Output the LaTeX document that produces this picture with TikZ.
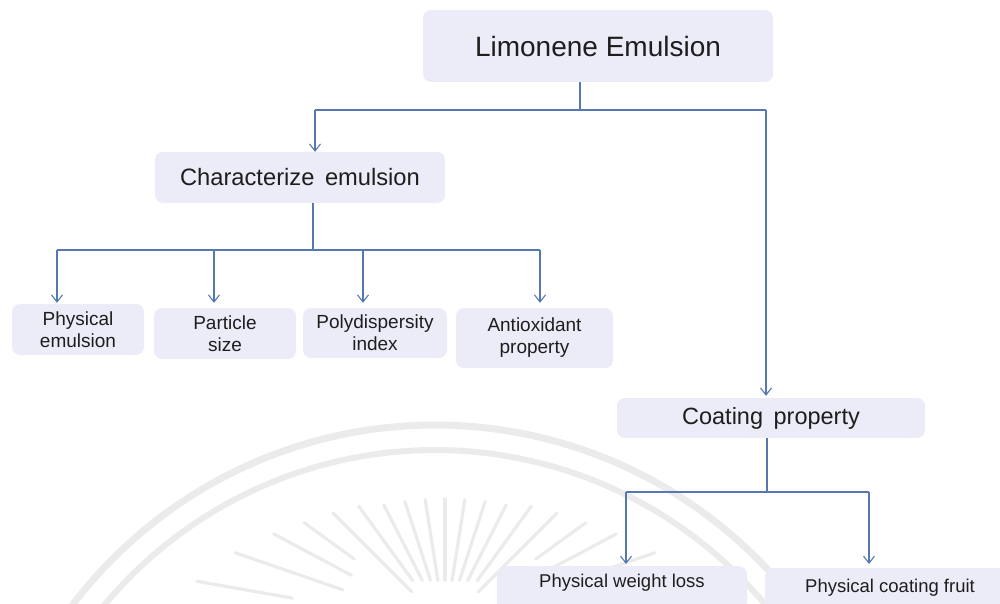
\documentclass[tikz,border=0pt]{standalone}
\usepackage{fontspec}
\setmainfont{Liberation Sans}
\usetikzlibrary{arrows.meta}
\definecolor{boxfill}{RGB}{236,236,248}
\definecolor{linec}{RGB}{86,120,176}
\definecolor{txt}{RGB}{30,30,30}
\definecolor{wm}{RGB}{235,235,235}
\begin{document}
\begin{tikzpicture}[x=1pt,y=-1pt,
  box/.style={fill=boxfill, rounded corners=8pt, inner sep=0pt, text=txt, align=center},
  smallbox/.style={box, font=\fontsize{19}{22}\selectfont},
  conn/.style={draw=linec, line width=1.3pt},
  arr/.style={conn, -{Straight Barb[length=7pt,width=11pt,line width=1.1pt]}},
  ray/.style={draw=wm, line width=3.2pt, line cap=round}]
\useasboundingbox (0,0) rectangle (1000,604);
% watermark seal
\begin{scope}
\clip (0,0) rectangle (1000,604);
\draw[wm, line width=7pt] plot[domain=205:335, samples=120] ({435+455*cos(\x)},{880+455*sin(\x)});
\draw[wm, line width=6pt] plot[domain=205:335, samples=120] ({435+430*cos(\x)},{880+430*sin(\x)});
\foreach \a/\ro/\ri in {-170/252/155,-161/222/108,-152/194/106,-144/174/112,-135/158/47,-126/147/55,-117/135/50,-108/130/47,-99/127/45,-90/126/45,-81/127/45,-72/130/47,-63/135/50,-54/147/55,-45/158/47,-36/174/112,-28/194/106,-19/222/108,-10/252/155}
  \draw[ray, shift={(445,625)}] (\a:\ri) -- (\a:\ro);
\end{scope}
% boxes
\node[box, minimum width=350pt, minimum height=72pt, font=\fontsize{28}{30}\selectfont] (lim) at (598,46) {Limonene Emulsion};
\node[box, minimum width=290pt, minimum height=51pt, font=\fontsize{23.7}{26}\selectfont] (char) at (300,177.5) {Characterize\hspace{4pt} emulsion};
\node[smallbox, minimum width=132pt, minimum height=51pt] (pe) at (78,329.5) {Physical\\emulsion};
\node[smallbox, minimum width=142pt, minimum height=51pt] (ps) at (225,333.5) {Particle\\size};
\node[smallbox, minimum width=144pt, minimum height=50pt] (pdi) at (375,333) {Polydispersity\\index};
\node[smallbox, minimum width=157pt, minimum height=60pt] (ao) at (534.5,338) {Antioxidant\\property};
\node[box, minimum width=308pt, minimum height=40pt, font=\fontsize{23.5}{26}\selectfont] (coat) at (771,418) {Coating\hspace{4pt} property};
\node[box, anchor=north, minimum width=250pt, minimum height=60pt, font=\fontsize{18.5}{22}\selectfont, text height=14pt, text depth=32pt] (wl) at (622,566) {Physical weight loss};
\node[box, anchor=north, minimum width=250pt, minimum height=60pt, font=\fontsize{18.5}{22}\selectfont, text height=14pt, text depth=26pt] (cf) at (890,568) {Physical coating fruit};
% connectors from top
\coordinate (t1) at (580,110);
\coordinate (tL) at (315,110);
\coordinate (tR) at (766,110);
\draw[conn] (lim.south -| t1) -- (t1);
\draw[conn] (tL) -- (tR);
\draw[arr] (tL) -- (tL |- char.north);
\draw[arr] (tR) -- ([yshift=2pt]tR |- coat.north);
% connectors from characterize
\coordinate (c1) at (313,250);
\coordinate (c2) at (57,250);
\coordinate (c3) at (214,250);
\coordinate (c4) at (363,250);
\coordinate (c5) at (540,250);
\draw[conn] (char.south -| c1) -- (c1);
\draw[conn] (c2) -- (c5);
\draw[arr, shorten >=1pt] (c2) -- (c2 |- pe.north);
\draw[arr, shorten >=5pt] (c3) -- (c3 |- ps.north);
\draw[arr, shorten >=5pt] (c4) -- (c4 |- pdi.north);
\draw[arr, shorten >=5pt] (c5) -- (c5 |- ao.north);
% connectors from coating
\coordinate (k1) at (767,492);
\coordinate (k2) at (626,492);
\coordinate (k3) at (869,492);
\draw[conn] (coat.south -| k1) -- (k1);
\draw[conn] (k2) -- (k3);
\draw[arr, shorten >=2pt] (k2) -- (k2 |- wl.north);
\draw[arr, shorten >=4pt] (k3) -- (k3 |- cf.north);
\end{tikzpicture}
\end{document}
